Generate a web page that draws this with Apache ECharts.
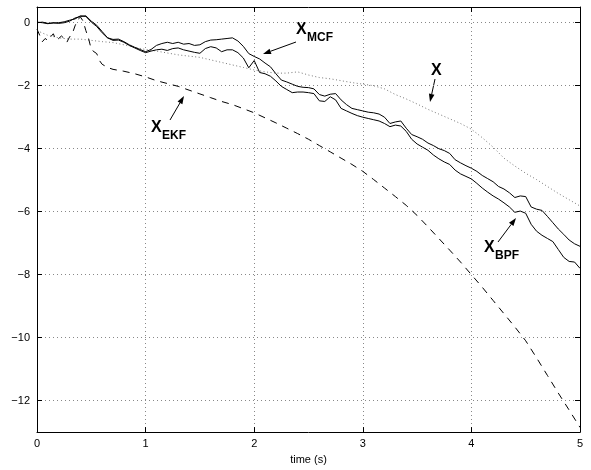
<!DOCTYPE html>
<html>
<head>
<meta charset="utf-8">
<script src="https://cdn.jsdelivr.net/npm/echarts@6/dist/echarts.min.js"></script>
<style>
html, body { margin: 0; padding: 0; background: #fff; }
#chart { width: 591px; height: 470px; }
</style>
</head>
<body>
<div id="chart"></div>
<script>
//时间轴 (s)
var timeFine = [0, 0.05, 0.1, 0.15, 0.2, 0.25, 0.3, 0.35, 0.4, 0.45,
    0.5, 0.55, 0.6, 0.65, 0.7, 0.75, 0.8, 0.85, 0.9, 0.95,
    1, 1.05, 1.1, 1.15, 1.2, 1.25, 1.3, 1.35, 1.4, 1.45,
    1.5, 1.55, 1.6, 1.65, 1.7, 1.75, 1.8, 1.85, 1.9, 1.95,
    2, 2.05, 2.1, 2.15, 2.2, 2.25, 2.3, 2.35, 2.4, 2.45,
    2.5, 2.55, 2.6, 2.65, 2.7, 2.75, 2.8, 2.85, 2.9, 2.95,
    3, 3.05, 3.1, 3.15, 3.2, 3.25, 3.3, 3.35, 3.4, 3.45,
    3.5, 3.55, 3.6, 3.65, 3.7, 3.75, 3.8, 3.85, 3.9, 3.95,
    4, 4.05, 4.1, 4.15, 4.2, 4.25, 4.3, 4.35, 4.4, 4.45,
    4.5, 4.55, 4.6, 4.65, 4.7, 4.75, 4.8, 4.85, 4.9, 4.95, 5];

//X_MCF
var mcfValues = [0.02, 0.0, -0.03, 0.0, -0.02, 0.0, 0.05, 0.15, 0.2, 0.22,
    0.05, -0.08, -0.28, -0.48, -0.53, -0.52, -0.6, -0.7, -0.78, -0.85,
    -0.92, -0.85, -0.72, -0.66, -0.62, -0.66, -0.62, -0.68, -0.66, -0.72,
    -0.7, -0.6, -0.55, -0.54, -0.52, -0.5, -0.48, -0.58, -0.75, -0.98,
    -1.07, -1.15, -1.28, -1.4, -1.62, -1.82, -1.88, -1.95, -2.02, -2.05,
    -2.06, -2.1, -2.28, -2.33, -2.27, -2.25, -2.45, -2.6, -2.72, -2.76,
    -2.8, -2.84, -2.86, -2.9, -3.0, -3.2, -3.15, -3.12, -3.35, -3.55,
    -3.62, -3.7, -3.82, -3.9, -4.0, -4.06, -4.15, -4.35, -4.45, -4.54,
    -4.62, -4.72, -4.85, -4.95, -5.05, -5.2, -5.28, -5.4, -5.55, -5.5,
    -5.52, -5.85, -5.92, -5.96, -6.15, -6.35, -6.55, -6.72, -6.9, -7.02, -7.1];

//X_BPF
var bpfValues = [0.0, 0.02, -0.02, -0.01, 0.0, 0.03, 0.08, 0.12, 0.22, 0.2,
    0.02, -0.12, -0.32, -0.48, -0.56, -0.55, -0.62, -0.72, -0.8, -0.88,
    -0.95, -0.9, -0.86, -0.84, -0.88, -0.82, -0.8, -0.86, -0.9, -0.94,
    -0.97, -0.82, -0.76, -0.8, -0.92, -0.86, -0.86, -0.95, -1.12, -1.43,
    -1.2, -1.58, -1.62, -1.7, -1.85, -2.02, -2.12, -2.22, -2.2, -2.2,
    -2.22, -2.25, -2.48, -2.5, -2.35, -2.45, -2.72, -2.8, -2.88, -2.95,
    -3.0, -3.04, -3.08, -3.12, -3.2, -3.3, -3.25, -3.28, -3.45, -3.7,
    -3.85, -3.95, -4.05, -4.2, -4.32, -4.42, -4.5, -4.68, -4.8, -4.88,
    -4.96, -5.1, -5.25, -5.38, -5.5, -5.6, -5.72, -5.85, -6.02, -5.98,
    -6.05, -6.4, -6.62, -6.75, -6.85, -6.95, -7.2, -7.45, -7.58, -7.6, -7.8];

//X (真实状态)
var timeTrue = [0, 0.1, 0.2, 0.3, 0.4, 0.5, 0.6, 0.7, 0.8, 0.9,
    1, 1.1, 1.2, 1.3, 1.4, 1.5, 1.6, 1.7, 1.8, 1.9,
    2, 2.1, 2.2, 2.3, 2.4, 2.5, 2.6, 2.7, 2.8, 2.9,
    3, 3.1, 3.2, 3.3, 3.4, 3.5, 3.6, 3.7, 3.8, 3.9,
    4, 4.1, 4.2, 4.3, 4.4, 4.5, 4.6, 4.7, 4.8, 4.9, 5];
var trueValues = [-0.25, -0.4, -0.48, -0.52, -0.52, -0.56, -0.6, -0.63, -0.7, -0.78,
    -0.85, -0.9, -0.96, -1.02, -1.06, -1.1, -1.18, -1.26, -1.34, -1.42,
    -1.5, -1.56, -1.6, -1.6, -1.56, -1.66, -1.74, -1.78, -1.84, -1.9,
    -1.95, -2.0, -2.1, -2.28, -2.42, -2.58, -2.75, -2.9, -3.05, -3.2,
    -3.38, -3.65, -3.95, -4.3, -4.55, -4.78, -4.98, -5.2, -5.42, -5.62, -5.82];

//X_EKF
var timeEkf = [0, 0.025, 0.05, 0.075, 0.1, 0.125, 0.15, 0.175, 0.2, 0.225,
    0.25, 0.275, 0.3, 0.325, 0.35, 0.375, 0.4, 0.425, 0.45, 0.475,
    0.5, 0.525, 0.55, 0.575, 0.6, 0.65, 0.7, 0.8, 0.9,
    1, 1.1, 1.2, 1.3, 1.4, 1.5, 1.6, 1.7, 1.8, 1.9,
    2, 2.1, 2.2, 2.3, 2.4, 2.5, 2.6, 2.7, 2.8, 2.9,
    3, 3.1, 3.2, 3.3, 3.4, 3.5, 3.6, 3.7, 3.8, 3.9,
    4, 4.1, 4.2, 4.3, 4.4, 4.5, 4.6, 4.7, 4.8, 4.9, 5];
var ekfValues = [-0.2, -0.4, -0.6, -0.5, -0.56, -0.45, -0.35, -0.55, -0.5, -0.42,
    -0.5, -0.62, -0.45, -0.35, -0.1, 0.1, 0.18, 0.05, -0.25, -0.5,
    -0.85, -0.92, -0.98, -1.2, -1.32, -1.42, -1.48, -1.54, -1.62,
    -1.72, -1.84, -1.93, -2.02, -2.14, -2.26, -2.38, -2.5, -2.6, -2.73,
    -2.86, -3.02, -3.18, -3.35, -3.52, -3.7, -3.9, -4.1, -4.3, -4.5,
    -4.72, -4.98, -5.25, -5.52, -5.8, -6.12, -6.48, -6.85, -7.22, -7.6,
    -8.0, -8.4, -8.82, -9.24, -9.66, -10.1, -10.64, -11.2, -11.76, -12.3, -12.85];

//刻度
var yTicks = [0, -2, -4, -6, -8, -10, -12];

var fontName = 'Liberation Sans, Arial, Helvetica, sans-serif';

function toPairs(xs, ys) {
    var out = [];
    for (var i = 0; i < xs.length; i++) {
        out.push([xs[i], ys[i]]);
    }
    return out;
}

//箭头 (线 + 三角形)
function arrow(x1, y1, x2, y2) {
    var dx = x2 - x1, dy = y2 - y1;
    var len = Math.sqrt(dx * dx + dy * dy);
    var ux = dx / len, uy = dy / len;
    var hl = 8, hw = 2.8;
    var bx = x2 - ux * hl, by = y2 - uy * hl;
    return [{
        type: 'line',
        shape: { x1: x1, y1: y1, x2: bx, y2: by },
        style: { stroke: '#000', lineWidth: 1 }
    }, {
        type: 'polygon',
        shape: { points: [[x2, y2], [bx - uy * hw, by + ux * hw], [bx + uy * hw, by - ux * hw]] },
        style: { fill: '#000' }
    }];
}

function label(x, y, main, sub) {
    var items = [{
        type: 'text', x: x, y: y,
        style: { text: main, fill: '#000', font: 'bold 16px ' + fontName, textVerticalAlign: 'top' }
    }];
    if (sub) {
        items.push({
            type: 'text', x: x + 11, y: y + 10,
            style: { text: sub, fill: '#000', font: 'bold 12px ' + fontName, textVerticalAlign: 'top' }
        });
    }
    return items;
}

function initChart(divID) {
    var chart = echarts.init(document.getElementById(divID));

    var elements = [].concat(
        label(296, 22, 'X', 'MCF'), arrow(296, 42, 263, 54),
        label(151, 120, 'X', 'EKF'), arrow(170, 120, 184, 96),
        label(431, 63, 'X'), arrow(435, 79, 430, 102),
        label(484, 240, 'X', 'BPF'), arrow(498, 242, 516, 218)
    );

    var option = {
        animation: false,
        backgroundColor: '#fff',
        grid: { left: 37, right: 11, top: 7, bottom: 34 },
        xAxis: [{
            type: 'value', min: 0, max: 5, interval: 1, position: 'bottom',
            name: 'time (s)', nameLocation: 'middle', nameGap: 18,
            nameTextStyle: { color: '#000', fontSize: 11, fontFamily: fontName },
            axisLine: { show: true, onZero: false, lineStyle: { color: '#000', width: 1 } },
            axisTick: { show: true, inside: true, length: 5, lineStyle: { color: '#000' } },
            axisLabel: { color: '#000', fontSize: 11, fontFamily: fontName, margin: 6 },
            splitLine: { show: true, lineStyle: { color: '#888', width: 1, type: [1, 3] } }
        }, {
            type: 'value', min: 0, max: 5, interval: 1, position: 'top',
            axisLine: { show: true, onZero: false, lineStyle: { color: '#000', width: 1 } },
            axisTick: { show: true, inside: true, length: 5, lineStyle: { color: '#000' } },
            axisLabel: { show: false },
            splitLine: { show: false }
        }],
        yAxis: [{
            type: 'value', min: -13, max: 0.5, splitNumber: 7, position: 'left',
            axisLine: { show: true, onZero: false, lineStyle: { color: '#000', width: 1 } },
            axisTick: { show: true, inside: true, length: 5, customValues: yTicks, lineStyle: { color: '#000' } },
            axisLabel: {
                customValues: yTicks, color: '#000', fontSize: 11, fontFamily: fontName, margin: 7,
                formatter: function (v) { return String(v).replace('-', '\u2212'); }
            },
            splitLine: { show: true, lineStyle: { color: '#888', width: 1, type: [1, 3] } }
        }, {
            type: 'value', min: -13, max: 0.5, splitNumber: 7, position: 'right',
            axisLine: { show: true, onZero: false, lineStyle: { color: '#000', width: 1 } },
            axisTick: { show: true, inside: true, length: 5, customValues: yTicks, lineStyle: { color: '#000' } },
            axisLabel: { show: false },
            splitLine: { show: false }
        }],
        series: [{
            name: 'X', type: 'line', showSymbol: false, z: 2,
            data: toPairs(timeTrue, trueValues),
            lineStyle: { color: '#777', width: 1, type: [1, 2.5] }
        }, {
            name: 'X_EKF', type: 'line', showSymbol: false, z: 3,
            data: toPairs(timeEkf, ekfValues),
            lineStyle: { color: '#000', width: 1, type: [7, 6] }
        }, {
            name: 'X_MCF', type: 'line', showSymbol: false, z: 4,
            data: toPairs(timeFine, mcfValues),
            lineStyle: { color: '#000', width: 1 }
        }, {
            name: 'X_BPF', type: 'line', showSymbol: false, z: 4,
            data: toPairs(timeFine, bpfValues),
            lineStyle: { color: '#000', width: 1 }
        }],
        graphic: elements
    };

    chart.setOption(option);
}

initChart('chart');
</script>
</body>
</html>
